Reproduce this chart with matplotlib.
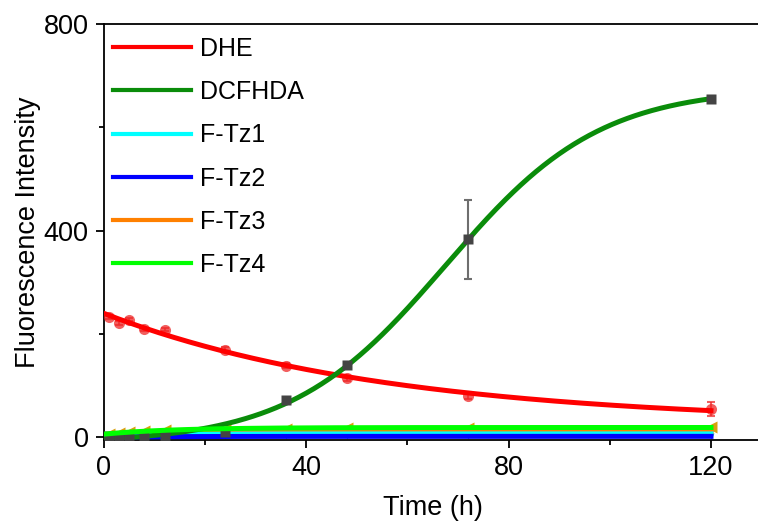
import numpy as np
import matplotlib.pyplot as plt
from matplotlib.ticker import MultipleLocator
from matplotlib.lines import Line2D

plt.rcParams['font.family'] = ['Liberation Sans', 'DejaVu Sans']

# sampling times (h) and mean fluorescence intensity of each probe
time_h = np.array([1, 3, 5, 8, 12, 24, 36, 48, 72, 120])
dhe = np.array([233, 221, 228, 209, 208, 170, 139, 114, 81, 55])
dhe_err = np.array([3, 4, 3, 3, 3, 4, 4, 5, 6, 13])
dcfhda = np.array([2, 1, 3, 2, 3, 10, 72, 141, 383, 655])
dcfhda_err = np.array([1, 1, 1, 1, 1, 2, 4, 5, 76, 6])
ftz1 = np.array([2, 3, 4, 5, 5, 6, 6, 7, 7, 7])
ftz2 = np.array([0, 1, 1, 1, 1, 2, 2, 2, 2, 2])
ftz3 = np.array([3, 5, 7, 8, 9, 10, 10, 11, 11, 12])
ftz4 = np.array([6, 9, 11, 13, 14, 16, 17, 18, 19, 21])

labels = ['DHE', 'DCFHDA', 'F-Tz1', 'F-Tz2', 'F-Tz3', 'F-Tz4']
line_colors = ['#ff0000', '#0a8c0a', '#00ffff', '#0000ff', '#ff8000', '#00ff00']


def fit_exp(t, y):
    # y = y0 + a*exp(-t/tau), tau by grid search, y0 and a by least squares
    best = None
    for tau in np.logspace(0, 3, 400):
        X = np.column_stack([np.ones(len(t)), np.exp(-t / tau)])
        coef = np.linalg.lstsq(X, y, rcond=None)[0]
        err = np.sum((X @ coef - y) ** 2)
        if best is None or err < best[0]:
            best = (err, tau, coef)
    _, tau, (y0, a) = best
    return lambda x: y0 + a * np.exp(-x / tau)


def fit_boltzmann(t, y):
    # y = A2 + (A1-A2)/(1+exp((t-x0)/dx))
    best = None
    for x0 in np.linspace(20, 120, 201):
        for dx in np.linspace(2, 40, 153):
            s = 1.0 / (1.0 + np.exp((t - x0) / dx))
            X = np.column_stack([s, 1 - s])
            coef = np.linalg.lstsq(X, y, rcond=None)[0]
            err = np.sum((X @ coef - y) ** 2)
            if best is None or err < best[0]:
                best = (err, x0, dx, coef)
    _, x0, dx, (a1, a2) = best
    return lambda x: a2 + (a1 - a2) / (1.0 + np.exp((x - x0) / dx))


t_fit = np.linspace(0, 120, 400)

fig = plt.figure(figsize=(7.58, 5.21), dpi=100)
ax = fig.add_axes([0.1372, 0.1555, 0.8675, 0.7985])

# small-signal probes: markers first, fit curves on top
ax.plot(time_h, ftz1, 'd', color='#9a86e0', ms=4, mec='none', zorder=2)
ax.plot(time_h, ftz2, 'v', color='#3a9a8a', ms=4, mec='none', zorder=2)
ax.plot(time_h, ftz3, '>', color='#8a7fd8', ms=4, mec='none', zorder=2)
ax.plot(time_h, ftz4, '<', color='#d9a00f', ms=8, mec='none', zorder=2)

ax.plot(t_fit, fit_exp(time_h, ftz3)(t_fit), color=line_colors[4], lw=3.6, zorder=4)
ax.plot(t_fit, fit_exp(time_h, ftz1)(t_fit), color=line_colors[2], lw=3.6, zorder=5)
ax.plot(t_fit, fit_exp(time_h, ftz2)(t_fit), color=line_colors[3], lw=3.6, zorder=6)

# DHE
ax.errorbar(time_h, dhe, yerr=dhe_err, fmt='o', color='#ee2a2a', alpha=0.75,
            ms=8, mec='none', capsize=3, elinewidth=1.5, capthick=1.5, zorder=3)
ax.plot(t_fit, fit_exp(time_h, dhe)(t_fit), color=line_colors[0], lw=3.6, zorder=7)

# DCFHDA
ax.plot(t_fit, fit_boltzmann(time_h, dcfhda)(t_fit), color=line_colors[1], lw=3.6, zorder=8)
ax.errorbar(time_h, dcfhda, yerr=dcfhda_err, fmt='s', color='#444444', ecolor='#6e6e6e',
            ms=6.5, mec='none', capsize=3, elinewidth=1.5, capthick=1.5, zorder=9)

ax.plot(t_fit, fit_exp(time_h, ftz4)(t_fit), color=line_colors[5], lw=3.6, zorder=10)

ax.set_xlim(0, 130)
ax.set_ylim(-5, 800)
ax.set_xticks([0, 40, 80, 120])
ax.set_yticks([0, 400, 800])
ax.xaxis.set_minor_locator(MultipleLocator(20))
ax.yaxis.set_minor_locator(MultipleLocator(200))
ax.tick_params(which='major', direction='out', length=6, width=1.3,
               labelsize=19.5, pad=5)
ax.tick_params(which='minor', direction='out', length=3.5, width=1.3)
for sp in ax.spines.values():
    sp.set_linewidth(1.3)

ax.set_xlabel('Time (h)', fontsize=19.5, labelpad=10)
ax.set_ylabel('Fluorescence Intensity', fontsize=19.5, labelpad=2)

handles = [Line2D([], [], color=c, lw=3) for c in line_colors]
ax.legend(handles, labels, loc='upper left', bbox_to_anchor=(0.0, 0.99),
          frameon=False, fontsize=18, handlelength=3.15, handletextpad=0.35,
          labelspacing=0.77, borderpad=0.0, borderaxespad=0.35)

fig.savefig('out.png', dpi=100)
